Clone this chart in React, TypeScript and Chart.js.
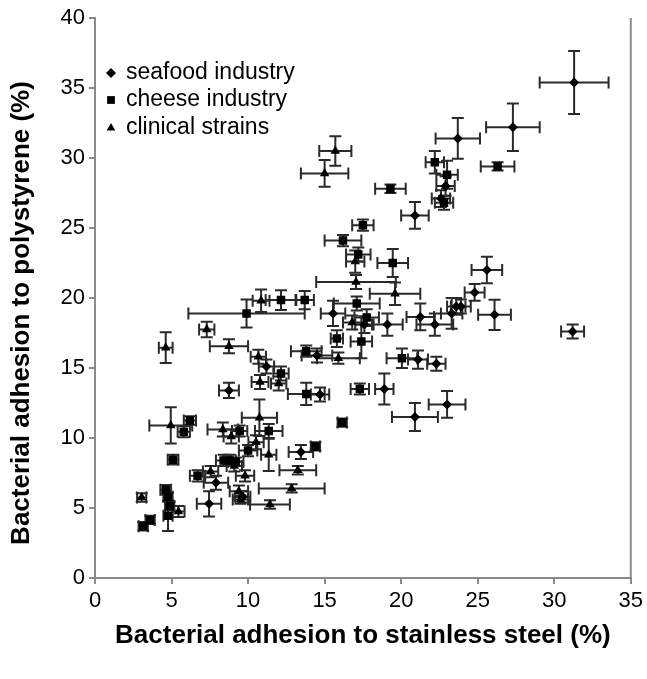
import React, { useEffect, useRef } from "react";
import { Chart, registerables } from "chart.js";

Chart.register(...registerables);

// ---- Data ----
const seafoodX = [31.3, 27.3, 23.7, 20.9, 22.9, 22.6, 25.6, 24.8, 26.1, 31.2, 23.9, 23.6, 23.3, 22.2, 21.25, 19.1, 21.1, 22.3, 23.0, 20.9, 18.9, 14.7, 8.75, 11.2, 15.55, 17.6, 13.45, 7.45, 7.9, 9.65, 14.5];
const seafoodY = [35.4, 32.2, 31.4, 25.9, 28.0, 27.1, 22.0, 20.4, 18.8, 17.6, 19.4, 19.4, 18.9, 18.1, 18.65, 18.1, 15.6, 15.3, 12.4, 11.5, 13.5, 13.1, 13.4, 15.1, 18.9, 18.1, 9.0, 5.3, 6.8, 5.8, 15.9];
const seafoodXErr = [2.25, 1.75, 1.45, 0.9, 0.6, 0.6, 1.0, 0.65, 1.07, 0.75, 0.65, 0.6, 0.7, 1.2, 0.9, 1.0, 0.65, 0.6, 1.2, 1.5, 0.6, 0.6, 0.65, 0.5, 0.8, 0.6, 0.8, 0.8, 0.8, 0.5, 1.0];
const seafoodYErr = [2.25, 1.7, 1.45, 0.95, 0.7, 0.6, 0.95, 0.6, 1.08, 0.5, 0.5, 0.6, 1.1, 0.8, 0.95, 0.8, 0.65, 0.5, 0.95, 1.0, 1.1, 0.5, 0.55, 0.5, 0.9, 0.6, 0.5, 0.9, 0.5, 0.4, 0.5];

const cheeseX = [26.3, 22.2, 23.0, 22.8, 19.3, 17.5, 16.2, 17.2, 19.45, 12.15, 13.7, 9.9, 17.1, 17.75, 15.8, 17.4, 13.8, 20.05, 12.15, 13.8, 17.3, 16.15, 14.4, 11.35, 9.45, 10.0, 8.4, 8.8, 9.2, 6.7, 5.8, 6.2, 5.1, 4.62, 4.77, 4.88, 4.77, 3.15, 3.6];
const cheeseY = [29.4, 29.7, 28.8, 26.8, 27.8, 25.2, 24.1, 23.1, 22.5, 19.85, 19.85, 18.9, 19.6, 18.6, 17.1, 16.9, 16.2, 15.7, 14.6, 13.15, 13.5, 11.1, 9.4, 10.5, 10.5, 9.1, 8.4, 8.4, 8.3, 7.3, 10.45, 11.25, 8.45, 6.3, 5.8, 5.15, 4.45, 3.7, 4.15];
const cheeseXErr = [1.1, 0.6, 0.7, 0.6, 1.0, 0.7, 1.2, 0.8, 1.0, 1.0, 0.6, 3.8, 1.5, 0.8, 0.4, 0.7, 1.0, 1.0, 0.5, 1.2, 0.6, 0.3, 0.3, 0.9, 0.5, 0.6, 0.5, 0.4, 0.5, 0.5, 0.4, 0.4, 0.35, 0.35, 0.3, 0.3, 0.3, 0.3, 0.3];
const cheeseYErr = [0.3, 0.8, 1.0, 0.5, 0.3, 0.4, 0.4, 0.5, 1.0, 0.7, 0.65, 1.0, 0.5, 0.6, 0.6, 1.2, 0.4, 0.7, 0.5, 0.8, 0.4, 0.3, 0.3, 0.5, 0.4, 0.4, 0.4, 0.4, 0.3, 0.4, 0.4, 0.3, 0.35, 0.35, 0.3, 0.3, 1.1, 0.3, 0.3];

const clinicalX = [15.7, 15.0, 17.0, 17.05, 19.6, 10.85, 7.3, 4.62, 8.75, 10.67, 16.8, 15.9, 10.78, 12.0, 4.95, 10.74, 8.35, 8.9, 11.35, 9.1, 7.55, 9.8, 13.25, 12.85, 9.4, 9.5, 11.43, 3.05, 5.45, 10.52];
const clinicalY = [30.5, 28.9, 22.6, 21.15, 20.3, 19.8, 17.75, 16.45, 16.55, 15.8, 18.25, 15.7, 14.0, 13.9, 10.9, 11.45, 10.6, 10.1, 8.8, 8.0, 7.6, 7.3, 7.7, 6.4, 6.2, 5.6, 5.25, 5.75, 4.75, 9.7];
const clinicalXErr = [1.05, 1.55, 0.6, 2.6, 1.65, 0.55, 0.5, 0.45, 1.25, 0.5, 0.6, 1.4, 0.55, 0.5, 1.4, 1.15, 1.0, 0.5, 0.5, 0.5, 0.5, 0.6, 1.2, 2.15, 0.6, 0.5, 1.3, 0.3, 0.4, 0.5];
const clinicalYErr = [1.05, 0.95, 0.8, 0.5, 0.8, 0.8, 0.55, 1.1, 0.5, 0.5, 0.5, 0.4, 0.5, 0.5, 1.3, 1.3, 0.5, 0.5, 1.15, 0.4, 0.4, 0.4, 0.3, 0.3, 0.4, 0.3, 0.3, 0.3, 0.4, 0.5];

const seriesNames = ["seafood industry", "cheese industry", "clinical strains"];
const xTitle = "Bacterial adhesion to stainless steel (%)";
const yTitle = "Bacterial adhesion to polystyrene (%)";
const xMin = 0, xMax = 35, xStep = 5;
const yMin = 0, yMax = 40, yStep = 5;

const FONT = "'Liberation Sans', Arial, sans-serif";
const AXIS_GRAY = "#8a8a8a";
const BAR_COLOR = "#2a2a2a";

function toPoints(xs: number[], ys: number[], xe: number[], ye: number[]) {
  return xs.map((x, i) => ({ x, y: ys[i], xErr: xe[i], yErr: ye[i] }));
}

const errorBarPlugin = {
  id: "errorBars",
  beforeDatasetsDraw(chart: any) {
    const { ctx, scales } = chart;
    const xs = scales.x, ys = scales.y;
    const cap = 6;
    ctx.save();
    ctx.strokeStyle = BAR_COLOR;
    ctx.lineWidth = 2;
    chart.data.datasets.forEach((ds: any) => {
      ds.data.forEach((p: any) => {
        const cx = xs.getPixelForValue(p.x);
        const cy = ys.getPixelForValue(p.y);
        const x0 = xs.getPixelForValue(p.x - p.xErr);
        const x1 = xs.getPixelForValue(p.x + p.xErr);
        const y0 = ys.getPixelForValue(p.y - p.yErr);
        const y1 = ys.getPixelForValue(p.y + p.yErr);
        ctx.beginPath();
        ctx.moveTo(x0, cy); ctx.lineTo(x1, cy);
        ctx.moveTo(x0, cy - cap); ctx.lineTo(x0, cy + cap);
        ctx.moveTo(x1, cy - cap); ctx.lineTo(x1, cy + cap);
        ctx.moveTo(cx, y0); ctx.lineTo(cx, y1);
        ctx.moveTo(cx - cap, y0); ctx.lineTo(cx + cap, y0);
        ctx.moveTo(cx - cap, y1); ctx.lineTo(cx + cap, y1);
        ctx.stroke();
      });
    });
    ctx.restore();
  },
};

function drawMarker(ctx: CanvasRenderingContext2D, style: string, x: number, y: number, r: number) {
  ctx.beginPath();
  if (style === "rectRot") {
    ctx.moveTo(x, y - r); ctx.lineTo(x + r, y); ctx.lineTo(x, y + r); ctx.lineTo(x - r, y);
  } else if (style === "rect") {
    const s = r * Math.SQRT1_2;
    ctx.rect(x - s, y - s, 2 * s, 2 * s);
  } else {
    const h = r;
    ctx.moveTo(x, y - h); ctx.lineTo(x + h * 0.866, y + h * 0.5); ctx.lineTo(x - h * 0.866, y + h * 0.5);
  }
  ctx.closePath();
  ctx.fill();
}

const decorPlugin = {
  id: "decor",
  afterDraw(chart: any) {
    const { ctx, chartArea } = chart;
    ctx.save();
    // right border
    ctx.strokeStyle = AXIS_GRAY;
    ctx.lineWidth = 2;
    ctx.beginPath();
    ctx.moveTo(chartArea.right, chartArea.top);
    ctx.lineTo(chartArea.right, chartArea.bottom);
    ctx.stroke();
    // legend
    ctx.fillStyle = "#000";
    ctx.font = `23px ${FONT}`;
    ctx.textBaseline = "middle";
    ctx.textAlign = "left";
    const rows = [73, 100, 128];
    chart.data.datasets.forEach((ds: any, i: number) => {
      drawMarker(ctx, ds.pointStyle, 111, rows[i], ds.pointStyle === "rect" ? 5.5 : 5);
      ctx.fillText(ds.label, 126, rows[i]);
    });
    // titles
    ctx.font = `bold 26px ${FONT}`;
    ctx.textAlign = "center";
    ctx.fillText(xTitle, (chartArea.left + chartArea.right) / 2, 636);
    ctx.translate(22, 313);
    ctx.rotate(-Math.PI / 2);
    ctx.fillText(yTitle, 0, 0);
    ctx.restore();
  },
};

export default function App() {
  const ref = useRef<HTMLCanvasElement>(null);
  useEffect(() => {
    document.body.style.margin = "0";
    const canvas = ref.current!;
    const mk = (label: string, pts: any[], style: string, r: number) => ({
      label,
      data: pts,
      pointStyle: style,
      pointRadius: r,
      pointBackgroundColor: "#000",
      pointBorderColor: "#000",
      pointBorderWidth: 0,
      showLine: false,
    });
    const chart = new Chart(canvas, {
      type: "scatter",
      data: {
        datasets: [
          mk(seriesNames[0], toPoints(seafoodX, seafoodY, seafoodXErr, seafoodYErr), "rectRot", 5),
          mk(seriesNames[1], toPoints(cheeseX, cheeseY, cheeseXErr, cheeseYErr), "rect", 6),
          mk(seriesNames[2], toPoints(clinicalX, clinicalY, clinicalXErr, clinicalYErr), "triangle", 5.5),
        ],
      },
      options: {
        responsive: false,
        animation: false,
        layout: { padding: { top: 18, right: 15, left: 0, bottom: 0 } },
        plugins: { legend: { display: false }, tooltip: { enabled: false } },
        scales: {
          x: {
            type: "linear",
            min: xMin,
            max: xMax,
            ticks: { stepSize: xStep, color: "#000", font: { size: 22, family: FONT }, padding: 4 },
            grid: { drawOnChartArea: false, drawTicks: true, tickLength: 6, color: AXIS_GRAY, lineWidth: 2 },
            border: { display: true, color: AXIS_GRAY, width: 2 },
            afterFit: (s: any) => { s.height = 101; },
          },
          y: {
            type: "linear",
            min: yMin,
            max: yMax,
            ticks: { stepSize: yStep, color: "#000", font: { size: 22, family: FONT }, padding: 4 },
            grid: { drawOnChartArea: false, drawTicks: true, tickLength: 6, color: AXIS_GRAY, lineWidth: 2 },
            border: { display: true, color: AXIS_GRAY, width: 2 },
            afterFit: (s: any) => { s.width = 95; },
          },
        },
      } as any,
      plugins: [errorBarPlugin, decorPlugin],
    });
    return () => chart.destroy();
  }, []);
  return <canvas ref={ref} width={647} height={679} style={{ display: "block" }} />;
}
